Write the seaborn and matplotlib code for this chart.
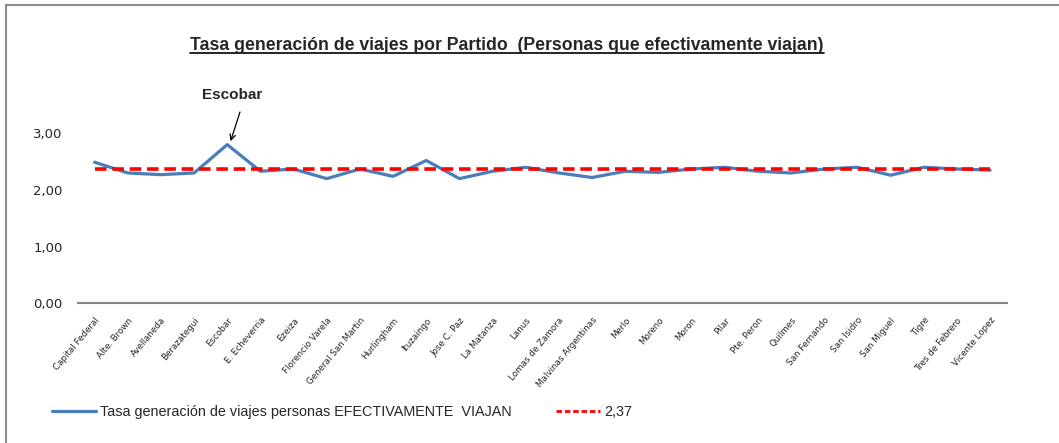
import matplotlib
matplotlib.use("Agg")
import matplotlib.pyplot as plt
from matplotlib.lines import Line2D
from matplotlib.patches import Rectangle
from matplotlib.ticker import FixedLocator
import seaborn as sns
import pandas as pd

# datos
partidos = ["Capital Federal", "Alte. Brown", "Avellaneda", "Berazategui", "Escobar",
            "E. Echeverria", "Ezeiza", "Florencio Varela", "General San Martin",
            "Hurlingham", "Ituzaingo", "Jose C. Paz", "La Matanza", "Lanus",
            "Lomas de Zamora", "Malvinas Argentinas", "Merlo", "Moreno", "Moron",
            "Pilar", "Pte. Peron", "Quilmes", "San Fernando", "San Isidro",
            "San Miguel", "Tigre", "Tres de Febrero", "Vicente Lopez"]
tasa = [2.49, 2.30, 2.27, 2.30, 2.80, 2.33, 2.37, 2.20, 2.37, 2.24, 2.52, 2.20, 2.33,
        2.40, 2.30, 2.22, 2.33, 2.31, 2.37, 2.40, 2.33, 2.30, 2.37, 2.40, 2.26, 2.40,
        2.37, 2.35]
promedio = 2.37
yticks = [0, 1, 2, 3]

df = pd.DataFrame({"partido": partidos, "tasa": tasa, "promedio": [promedio] * len(partidos)})

sns.set_style("white")
plt.rcParams["font.family"] = ["Liberation Sans", "DejaVu Sans"]

fig = plt.figure(figsize=(10.59, 4.43), dpi=100)
ax = fig.add_axes([78 / 1059, 1 - 303.3 / 443, (1006.7 - 78) / 1059, (303.3 - 133.3) / 443])

azul = "#4A7EBB"
rojo = "#FF0000"
sns.lineplot(data=df, x="partido", y="tasa", ax=ax, color=azul, lw=2.3, sort=False)
sns.lineplot(data=df, x="partido", y="promedio", ax=ax, color=rojo, lw=2.6, sort=False,
             linestyle=(0, (3.2, 1.6)))

ax.set_xlim(-0.5, len(partidos) - 0.5)
ax.set_ylim(0, 3)
ax.set_yticks(yticks)
ax.set_yticklabels([f"{v:.2f}".replace(".", ",") for v in yticks],
                   fontsize=9.5, family=["DejaVu Sans"])
ax.tick_params(axis="y", length=0, pad=11)
ax.set_xticks(range(len(partidos)))
ax.set_xticklabels(partidos, rotation=50, ha="right", va="top", rotation_mode="anchor",
                   fontsize=6.3, family=["DejaVu Sans"])
ax.xaxis.set_minor_locator(FixedLocator([i - 0.5 for i in range(len(partidos) + 1)]))
ax.tick_params(axis="x", which="major", length=0, pad=9)
ax.tick_params(axis="x", which="minor", length=4, width=1, color="#868686", direction="out")
ax.set_xlabel("")
ax.set_ylabel("")
for s in ["top", "right", "left"]:
    ax.spines[s].set_visible(False)
ax.spines["bottom"].set_color("#868686")
ax.spines["bottom"].set_linewidth(1.5)

# titulo subrayado
t = fig.text(507 / 1059, 1 - 45 / 443, "Tasa generación de viajes por Partido  (Personas que efectivamente viajan)",
             ha="center", va="center", fontsize=12.7, fontweight="bold")
fig.canvas.draw()
bb = t.get_window_extent().transformed(fig.transFigure.inverted())
fig.add_artist(Line2D([bb.x0, bb.x1], [bb.y0 + 0.002, bb.y0 + 0.002], color="black", lw=1.2,
                      transform=fig.transFigure))

# anotacion Escobar
i_esc = partidos.index("Escobar")
fig.text(232 / 1059, 1 - 95 / 443, "Escobar", ha="center", va="center",
         fontsize=11, fontweight="bold")
ax.annotate("", xy=(i_esc + 0.1, tasa[i_esc] + 0.06), xytext=(240 / 1059, 1 - 112 / 443),
            textcoords="figure fraction",
            arrowprops=dict(arrowstyle="->", color="black", lw=0.9, shrinkA=0, shrinkB=0),
            annotation_clip=False)

# leyenda
handles = [Line2D([], [], color=azul, lw=2.3),
           Line2D([], [], color=rojo, lw=2.0, linestyle=(0, (2, 1)))]
labels = ["Tasa generación de viajes personas EFECTIVAMENTE  VIAJAN", "2,37"]
fig.legend(handles, labels, loc="center left", bbox_to_anchor=(0.037, 1 - 412 / 443), ncol=2,
           frameon=False, fontsize=10.4, handlelength=3.0, handletextpad=0.3, columnspacing=3.1)

# borde del grafico
fig.add_artist(Rectangle((6 / 1059, -0.05), 1.2, 1.05 - 5 / 443, transform=fig.transFigure,
                         fill=False, edgecolor="#8C8C8C", lw=1.5))

fig.savefig("out.png", dpi=100)
